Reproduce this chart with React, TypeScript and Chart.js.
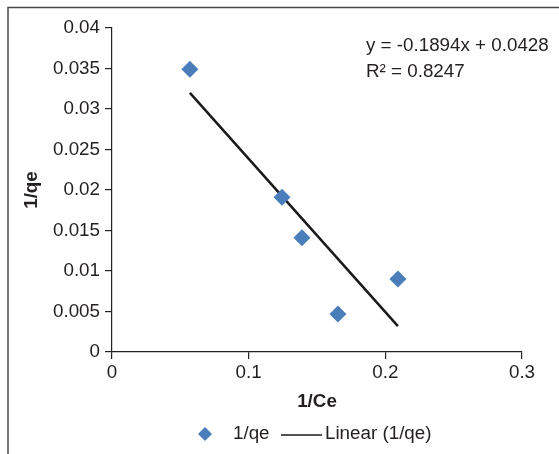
import React, { useEffect, useRef } from "react";
import { Chart, registerables } from "chart.js";

Chart.register(...registerables);

// Data
const ceInv = [0.057, 0.1244, 0.139, 0.1653, 0.2092];
const qeInv = [0.0349, 0.0191, 0.0141, 0.0047, 0.009];
const trendX = [0.057, 0.2092];
const trendY = [0.032, 0.0032];
const yTicks = [0, 0.005, 0.01, 0.015, 0.02, 0.025, 0.03, 0.035, 0.04];
const yTickLabels = ["0", "0.005", "0.01", "0.015", "0.02", "0.025", "0.03", "0.035", "0.04"];
const xTicks = [0, 0.1, 0.2, 0.3];
const xTickLabels = ["0", "0.1", "0.2", "0.3"];
const seriesNames = ["1/qe", "Linear (1/qe)"];
const equationLines = ["y = -0.1894x + 0.0428", "R\u00b2 = 0.8247"];

const FONT = "'Liberation Sans', Arial, Helvetica, sans-serif";
const TEXT = "#231f20";
const BLUE = "#4a7ebb";
const FS = 18.8;

export default function App() {
  const ref = useRef<HTMLCanvasElement | null>(null);

  useEffect(() => {
    const canvas = ref.current;
    if (!canvas) return;

    const decor = {
      id: "decor",
      afterDraw(chart: any) {
        const ctx = chart.ctx;
        ctx.save();
        // outer frame (cropped at right/bottom)
        ctx.strokeStyle = "#4a4a4a";
        ctx.lineWidth = 1.5;
        ctx.beginPath();
        ctx.moveTo(8, 454);
        ctx.lineTo(8, 7.5);
        ctx.lineTo(559, 7.5);
        ctx.stroke();

        // equation text
        ctx.fillStyle = TEXT;
        ctx.font = `${FS}px ${FONT}`;
        ctx.textBaseline = "middle";
        ctx.textAlign = "left";
        ctx.fillText(equationLines[0], 366, 46);
        ctx.fillText(equationLines[1], 366, 72);

        // legend
        const ly = 434;
        ctx.fillStyle = BLUE;
        ctx.beginPath();
        ctx.moveTo(205 - 7, ly);
        ctx.lineTo(205, ly - 7);
        ctx.lineTo(205 + 7, ly);
        ctx.lineTo(205, ly + 7);
        ctx.closePath();
        ctx.fill();
        ctx.fillStyle = TEXT;
        ctx.fillText(seriesNames[0], 233, ly);
        ctx.strokeStyle = "#1a1a1a";
        ctx.lineWidth = 1.5;
        ctx.beginPath();
        ctx.moveTo(281, ly + 1);
        ctx.lineTo(322, ly + 1);
        ctx.stroke();
        ctx.fillText(seriesNames[1], 325, ly);
        ctx.restore();
      },
    };

    const chart = new Chart(canvas, {
      type: "scatter",
      data: {
        datasets: [
          {
            label: seriesNames[0],
            data: ceInv.map((x, i) => ({ x, y: qeInv[i] })),
            pointStyle: "rectRot",
            pointRadius: 8.5,
            backgroundColor: BLUE,
            borderColor: BLUE,
            borderWidth: 0,
            order: 1,
          },
          {
            label: seriesNames[1],
            type: "line",
            data: trendX.map((x, i) => ({ x, y: trendY[i] })),
            borderColor: "#1a1a1a",
            borderWidth: 2.5,
            pointRadius: 0,
            showLine: true,
            fill: false,
            order: 2,
          } as any,
        ],
      },
      options: {
        responsive: false,
        animation: false,
        layout: { padding: { left: 0, right: 37, top: 28, bottom: 40 } },
        plugins: {
          legend: { display: false },
          tooltip: { enabled: false },
        },
        scales: {
          x: {
            type: "linear",
            min: 0,
            max: 0.3,
            afterFit(scale: any) {
              scale.height = 62;
            },
            afterBuildTicks(scale: any) {
              scale.ticks = xTicks.map((v) => ({ value: v }));
            },
            ticks: {
              color: TEXT,
              font: { family: FONT, size: FS },
              padding: 3,
              maxRotation: 0,
              callback: (v: any) => {
                const i = xTicks.findIndex((t) => Math.abs(t - Number(v)) < 1e-9);
                return i >= 0 ? xTickLabels[i] : "";
              },
            },
            grid: {
              drawOnChartArea: false,
              drawTicks: true,
              tickLength: 7,
              color: "#222",
              lineWidth: 1.2,
            },
            border: { display: true, color: "#222", width: 1.2 },
            title: {
              display: true,
              text: "1/Ce",
              color: TEXT,
              font: { family: FONT, size: FS, weight: "bold" },
              padding: { top: 0, bottom: 1.2 },
            },
          },
          y: {
            type: "linear",
            min: 0,
            max: 0.04,
            afterFit(scale: any) {
              scale.width = 112;
            },
            afterBuildTicks(scale: any) {
              scale.ticks = yTicks.map((v) => ({ value: v }));
            },
            ticks: {
              color: TEXT,
              font: { family: FONT, size: FS },
              padding: 5,
              callback: (v: any) => {
                const i = yTicks.findIndex((t) => Math.abs(t - Number(v)) < 1e-9);
                return i >= 0 ? yTickLabels[i] : "";
              },
            },
            grid: {
              drawOnChartArea: false,
              drawTicks: true,
              tickLength: 7,
              color: "#222",
              lineWidth: 1.2,
            },
            border: { display: true, color: "#222", width: 1.2 },
            title: {
              display: true,
              text: "1/qe",
              color: TEXT,
              font: { family: FONT, size: FS, weight: "bold" },
              padding: { top: 21, bottom: 0 },
            },
          },
        },
      },
      plugins: [decor],
    });

    return () => chart.destroy();
  }, []);

  return (
    <div style={{ position: "fixed", left: 0, top: 0, width: 559, height: 454, background: "#fff" }}>
      <canvas ref={ref} width={559} height={454} />
    </div>
  );
}
